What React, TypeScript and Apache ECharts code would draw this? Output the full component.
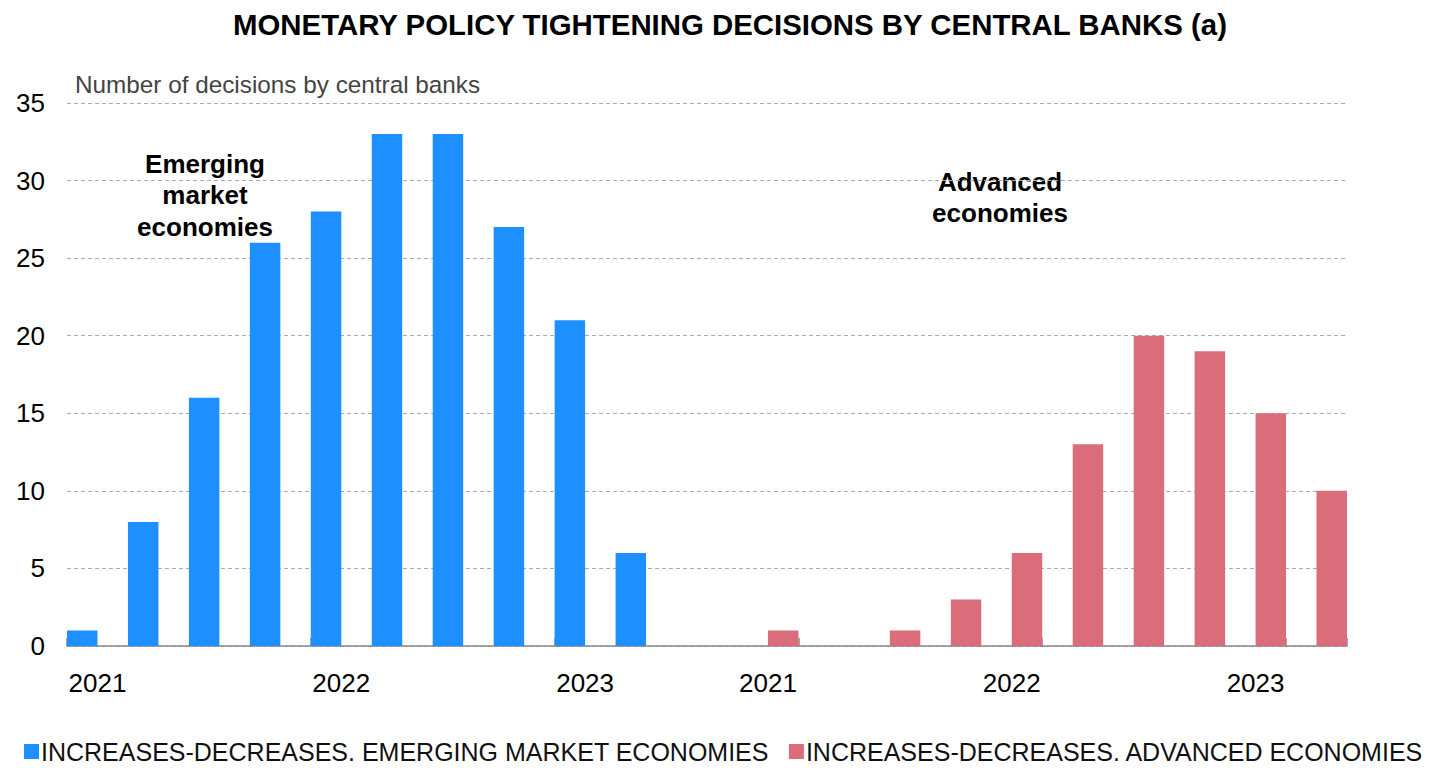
import React, { useEffect, useRef } from "react";
import * as echarts from "echarts";

const categories = [
  "2021", "", "", "", "2022", "", "", "", "2023", "", "",
  "2021", "", "", "", "2022", "", "", "", "2023", "",
];
const emergingValues: (number | string)[] = [1, 8, 16, 26, 28, 33, 33, 27, 21, 6, "-", "-", "-", "-", "-", "-", "-", "-", "-", "-", "-"];
const advancedValues: (number | string)[] = ["-", "-", "-", "-", "-", "-", "-", "-", "-", "-", "-", 1, 0, 1, 3, 6, 13, 20, 19, 15, 10];
const seriesNames = [
  "INCREASES-DECREASES. EMERGING MARKET ECONOMIES",
  "INCREASES-DECREASES. ADVANCED ECONOMIES",
];
const titleText = "MONETARY POLICY TIGHTENING DECISIONS BY CENTRAL BANKS (a)";
const yAxisName = "Number of decisions by central banks";
const annotationEmerging = "Emerging\nmarket\neconomies";
const annotationAdvanced = "Advanced\neconomies";

const FONT = "'Liberation Sans', Arial, Helvetica, sans-serif";

export default function App() {
  const ref = useRef<HTMLDivElement>(null);
  useEffect(() => {
    if (!ref.current) return;
    const chart = echarts.init(ref.current, null, { renderer: "svg" });
    chart.setOption({
      animation: false,
      backgroundColor: "#fff",
      title: {
        text: titleText,
        left: 725,
        textAlign: "center",
        top: 5,
        textStyle: { fontFamily: FONT, fontSize: 29.4, fontWeight: "bold", color: "#000" },
      },
      grid: { left: 67, right: 85, top: 103, bottom: 125, containLabel: false },
      legend: {
        bottom: 2,
        left: 19,
        width: 1432,
        itemWidth: 15,
        itemHeight: 15,
        itemGap: 20,
        icon: "rect",
        textStyle: { fontFamily: FONT, fontSize: 25, color: "#111", padding: [0, 0, 0, -3] },
        data: seriesNames,
      },
      xAxis: {
        type: "category",
        data: categories,
        boundaryGap: true,
        axisLine: { lineStyle: { color: "#888", width: 1.5 } },
        axisTick: {
          show: true,
          inside: true,
          length: 8,
          interval: (i: number) => i % 4 === 0,
          lineStyle: { color: "#888", width: 1.5 },
        },
        axisLabel: {
          interval: 0,
          margin: 24,
          fontFamily: FONT,
          fontSize: 26,
          color: "#000",
        },
      },
      yAxis: {
        type: "value",
        min: 0,
        max: 35,
        interval: 5,
        name: yAxisName,
        nameLocation: "end",
        nameGap: 7,
        nameTextStyle: {
          fontFamily: FONT,
          fontSize: 24.3,
          color: "#444",
          align: "left",
          verticalAlign: "bottom",
          padding: [0, 0, 0, 8],
        },
        axisLine: { show: false },
        axisTick: { show: false },
        axisLabel: { fontFamily: FONT, fontSize: 26, color: "#000", margin: 22 },
        splitLine: { lineStyle: { color: "#aaa", type: [4, 3], width: 1 } },
      },
      series: [
        {
          name: seriesNames[0],
          type: "bar",
          data: emergingValues,
          barGap: "0%",
          barCategoryGap: "0%",
          itemStyle: { color: "#1E8FFF" },
        },
        {
          name: seriesNames[1],
          type: "bar",
          data: advancedValues,
          barGap: "0%",
          barCategoryGap: "0%",
          itemStyle: { color: "#DA6D79" },
        },
      ],
      graphic: [
        {
          type: "text",
          x: 205,
          y: 148,
          style: {
            text: annotationEmerging,
            align: "center",
            textAlign: "center",
            verticalAlign: "top",
            fontFamily: FONT,
            fontSize: 26,
            fontWeight: "bold",
            lineHeight: 31.5,
            fill: "#000",
          },
        },
        {
          type: "text",
          x: 1000,
          y: 166,
          style: {
            text: annotationAdvanced,
            align: "center",
            textAlign: "center",
            verticalAlign: "top",
            fontFamily: FONT,
            fontSize: 26,
            fontWeight: "bold",
            lineHeight: 31.5,
            fill: "#000",
          },
        },
      ],
    });
    return () => chart.dispose();
  }, []);
  return <div ref={ref} style={{ width: 1432, height: 771, margin: -8 }} />;
}
